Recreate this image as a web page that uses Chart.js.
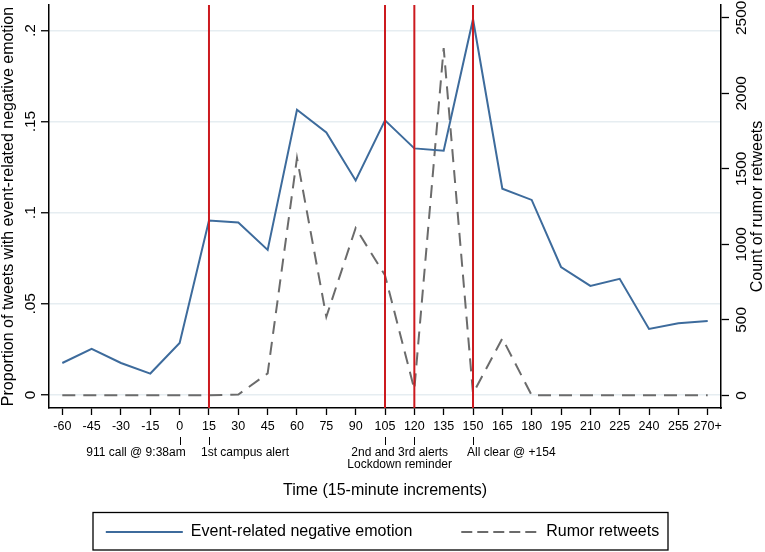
<!DOCTYPE html>
<html>
<head>
<meta charset="utf-8">
<script src="https://cdn.jsdelivr.net/npm/chart.js@4.4.1/dist/chart.umd.min.js"></script>
<style>
  body { margin: 0; background: #fff; }
  #wrap { width: 765px; height: 552px; position: relative; }
</style>
</head>
<body>
<div id="wrap"><canvas id="grafico"></canvas></div>
<script>
// minutes relative to the 911 call, 15-minute bins
const minutes = [-60, -45, -30, -15, 0, 15, 30, 45, 60, 75, 90, 105, 120, 135, 150, 165, 180, 195, 210, 225, 240, 255, 270];
const tickLabels = ['-60', '-45', '-30', '-15', '0', '15', '30', '45', '60', '75', '90', '105', '120', '135', '150', '165', '180', '195', '210', '225', '240', '255', '270+'];

const negEmotion = [0.0175, 0.0252, 0.0175, 0.0117, 0.0285, 0.0957, 0.0946, 0.0796, 0.1565, 0.1440, 0.1177, 0.1507, 0.1353, 0.1340, 0.2062, 0.1132, 0.1070, 0.0702, 0.0598, 0.0637, 0.0362, 0.0393, 0.0406];
const rumorRetweets = [0, 0, 0, 0, 0, 0, 5, 145, 1572, 520, 1108, 795, 40, 2300, 12, 377, 0, 0, 0, 0, 0, 0, 0];

const leftTicks = [0, 0.05, 0.1, 0.15, 0.2];
const leftTickLabels = ['0', '.05', '.1', '.15', '.2'];
const rightTicks = [0, 500, 1000, 1500, 2000, 2500];
const rightTickLabels = ['0', '500', '1000', '1500', '2000', '2500'];

const alertTimes = [15, 105, 120, 150];
const noteTimes = [0, 15, 105, 120, 150];
const noteLabels = ['911 call @ 9:38am', '1st campus alert', '2nd and 3rd alerts', 'Lockdown reminder', 'All clear @ +154'];

const xTitle = 'Time (15-minute increments)';
const leftTitle = 'Proportion of tweets with event-related negative emotion';
const rightTitle = 'Count of rumor retweets';

Chart.defaults.font.family = "'Liberation Sans', Arial, sans-serif";
Chart.defaults.color = '#000';

const extras = {
    id: 'extras',
    afterDatasetsDraw(chart) {
        const { ctx, chartArea, scales } = chart;
        ctx.save();
        ctx.strokeStyle = '#cc1a1f';
        ctx.lineWidth = 2;
        alertTimes.forEach(t => {
            const x = scales.x.getPixelForValue(t);
            ctx.beginPath();
            ctx.moveTo(x, chartArea.top);
            ctx.lineTo(x, chartArea.bottom);
            ctx.stroke();
        });
        ctx.restore();
    },
    afterDraw(chart) {
        const { ctx, chartArea, scales } = chart;
        const sx = scales.x;
        const top = sx.top;
        ctx.save();
        // little marks under the event ticks
        ctx.strokeStyle = '#000';
        ctx.lineWidth = 1;
        noteTimes.forEach(t => {
            const x = Math.round(sx.getPixelForValue(t)) + 0.5;
            ctx.beginPath();
            ctx.moveTo(x, top + 29);
            ctx.lineTo(x, top + 37);
            ctx.stroke();
        });
        ctx.fillStyle = '#000';
        ctx.font = "12px 'Liberation Sans', Arial, sans-serif";
        ctx.textBaseline = 'middle';
        const px = t => sx.getPixelForValue(t);
        ctx.textAlign = 'right';
        ctx.fillText(noteLabels[0], px(0) + 6, top + 45);
        ctx.textAlign = 'left';
        ctx.fillText(noteLabels[1], px(15) - 8, top + 45);
        ctx.textAlign = 'center';
        const mid = (px(105) + px(120)) / 2;
        ctx.fillText(noteLabels[2], mid, top + 45);
        ctx.fillText(noteLabels[3], mid, top + 57);
        ctx.textAlign = 'left';
        ctx.fillText(noteLabels[4], px(150) - 6, top + 45);

        // right axis title, reading bottom to top
        ctx.font = "16px 'Liberation Sans', Arial, sans-serif";
        ctx.textAlign = 'center';
        ctx.translate(758, (chartArea.top + chartArea.bottom) / 2);
        ctx.rotate(-Math.PI / 2);
        ctx.fillText(rightTitle, 0, 0);
        ctx.restore();

        // legend frame
        ctx.save();
        ctx.strokeStyle = '#000';
        ctx.lineWidth = 1.3;
        ctx.strokeRect(93, 512.5, 575, 37.5);
        ctx.restore();
    }
};

const ctx = document.getElementById('grafico').getContext('2d');
new Chart(ctx, {
    type: 'line',
    data: {
        datasets: [
            {
                label: 'Event-related negative emotion',
                data: minutes.map((m, i) => ({ x: m, y: negEmotion[i] })),
                yAxisID: 'y',
                borderColor: '#3d6b9c',
                backgroundColor: '#3d6b9c',
                borderWidth: 2,
                pointRadius: 0,
                pointStyle: 'line',
                tension: 0
            },
            {
                label: 'Rumor retweets',
                data: minutes.map((m, i) => ({ x: m, y: rumorRetweets[i] })),
                yAxisID: 'y1',
                borderColor: '#6b6b6b',
                backgroundColor: '#6b6b6b',
                borderWidth: 2,
                borderDash: [13, 8],
                pointRadius: 0,
                pointStyle: 'line',
                tension: 0
            }
        ]
    },
    options: {
        responsive: true,
        maintainAspectRatio: false,
        animation: false,
        devicePixelRatio: 1,
        layout: { padding: { top: 5, bottom: 2, left: 0, right: 0 } },
        plugins: {
            tooltip: { enabled: false },
            legend: {
                position: 'bottom',
                labels: {
                    usePointStyle: true,
                    pointStyleWidth: 77,
                    padding: 49,
                    color: '#000',
                    font: { size: 16 },
                    generateLabels: chart => {
                        const items = Chart.defaults.plugins.legend.labels.generateLabels(chart);
                        items[1].lineDash = [11, 5];
                        return items;
                    }
                }
            }
        },
        scales: {
            x: {
                type: 'linear',
                min: -66.8,
                max: 276.8,
                afterBuildTicks: s => { s.ticks = minutes.map(v => ({ value: v })); },
                afterFit: s => { s.height = 67; s.paddingLeft = 0; s.paddingRight = 0; },
                ticks: {
                    callback: (v, i) => tickLabels[i],
                    autoSkip: false,
                    maxRotation: 0,
                    minRotation: 0,
                    padding: 4.5,
                    font: { size: 12.5 },
                    color: '#000'
                },
                grid: { drawOnChartArea: false, tickLength: 7, tickColor: '#000', tickWidth: 1.3 },
                border: { color: '#000', width: 1.5 },
                title: {
                    display: true,
                    text: xTitle,
                    color: '#000',
                    font: { size: 16, lineHeight: 1.2 },
                    padding: { top: 0, bottom: -25.6 }
                }
            },
            y: {
                position: 'left',
                min: -0.0072,
                max: 0.214,
                afterBuildTicks: s => { s.ticks = leftTicks.map(v => ({ value: v })); },
                afterFit: s => { s.width = 49; s.paddingTop = 0; s.paddingBottom = 0; },
                ticks: {
                    callback: (v, i) => leftTickLabels[i],
                    minRotation: 90,
                    maxRotation: 90,
                    crossAlign: 'center',
                    padding: 0,
                    font: { size: 15.5 },
                    color: '#000'
                },
                grid: { color: '#e6edf1', lineWidth: 1.5, tickLength: 8, tickColor: '#000', tickWidth: 1.3 },
                border: { color: '#000', width: 1.5 },
                title: {
                    display: true,
                    text: leftTitle,
                    color: '#000',
                    font: { size: 16, lineHeight: 1.2 },
                    padding: { top: -1, bottom: 0 }
                }
            },
            y1: {
                position: 'right',
                min: -84,
                max: 2585,
                afterBuildTicks: s => { s.ticks = rightTicks.map(v => ({ value: v })); },
                afterFit: s => { s.width = 44; s.paddingTop = 0; s.paddingBottom = 0; },
                ticks: {
                    callback: (v, i) => rightTickLabels[i],
                    minRotation: 90,
                    maxRotation: 90,
                    crossAlign: 'center',
                    padding: -4.5,
                    font: { size: 15.5 },
                    color: '#000'
                },
                grid: { drawOnChartArea: false, tickLength: 8, tickColor: '#000', tickWidth: 1.3 },
                border: { color: '#000', width: 1.5 },
                title: { display: false }
            }
        }
    },
    plugins: [extras]
});
</script>
</body>
</html>
